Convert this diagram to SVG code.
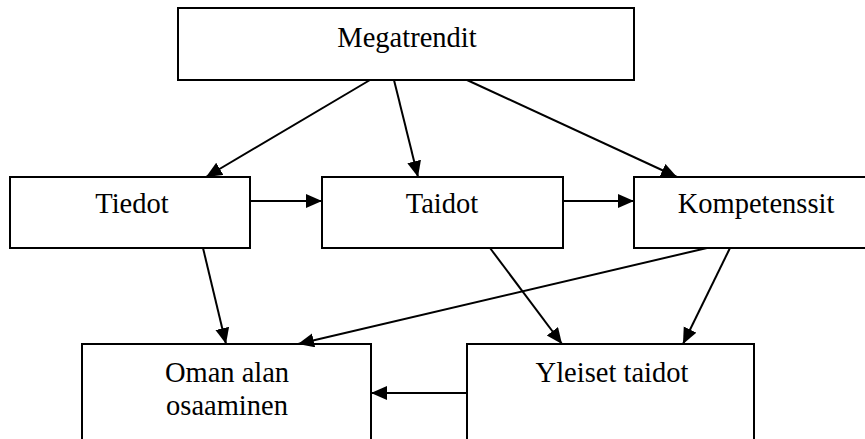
<svg xmlns="http://www.w3.org/2000/svg" width="865" height="439" viewBox="0 0 865 439">
<defs>
<style>
.box{fill:#fff;stroke:#000;stroke-width:2}
.lbl{font-family:"Liberation Serif","Times New Roman",serif;font-size:28.5px;fill:#000;text-anchor:middle}
.edge{stroke:#000;stroke-width:2;fill:none;marker-end:url(#ah)}
</style>
<marker id="ah" markerUnits="userSpaceOnUse" markerWidth="17" markerHeight="15" refX="16" refY="7" orient="auto">
<path d="M0,0 L16,7 L0,14 z" fill="#000"/>
</marker>
</defs>
<rect width="865" height="439" fill="#fff"/>
<g id="megatrendit"><rect class="box" x="178" y="8" width="456" height="72"/><text class="lbl" x="407" y="47">Megatrendit</text></g>
<g id="tiedot"><rect class="box" x="10" y="177" width="240" height="71"/><text class="lbl" x="132" y="213">Tiedot</text></g>
<g id="taidot"><rect class="box" x="322" y="177" width="241" height="71"/><text class="lbl" x="442" y="213">Taidot</text></g>
<g id="kompetenssit"><rect class="box" x="634" y="177" width="240" height="71"/><text class="lbl" x="756" y="213">Kompetenssit</text></g>
<g id="oman"><rect class="box" x="82" y="344" width="289" height="110"/><text class="lbl" x="227" y="382">Oman alan</text><text class="lbl" x="227" y="415">osaaminen</text></g>
<g id="yleiset"><rect class="box" x="467" y="344" width="287" height="110"/><text class="lbl" x="612" y="382">Yleiset taidot</text></g>
<g id="connectors">
<line class="edge" x1="370" y1="80" x2="206" y2="177"/>
<line class="edge" x1="394" y1="80" x2="418" y2="177"/>
<line class="edge" x1="467" y1="80" x2="677" y2="177"/>
<line class="edge" x1="250" y1="201" x2="322" y2="201"/>
<line class="edge" x1="563" y1="201" x2="634" y2="201"/>
<line class="edge" x1="203" y1="248" x2="226" y2="344"/>
<line class="edge" x1="490" y1="248" x2="562" y2="344"/>
<line class="edge" x1="730" y1="248" x2="683" y2="344"/>
<line class="edge" x1="707" y1="248" x2="298" y2="344"/>
<line class="edge" x1="467" y1="393" x2="371" y2="393"/>
</g>
</svg>
